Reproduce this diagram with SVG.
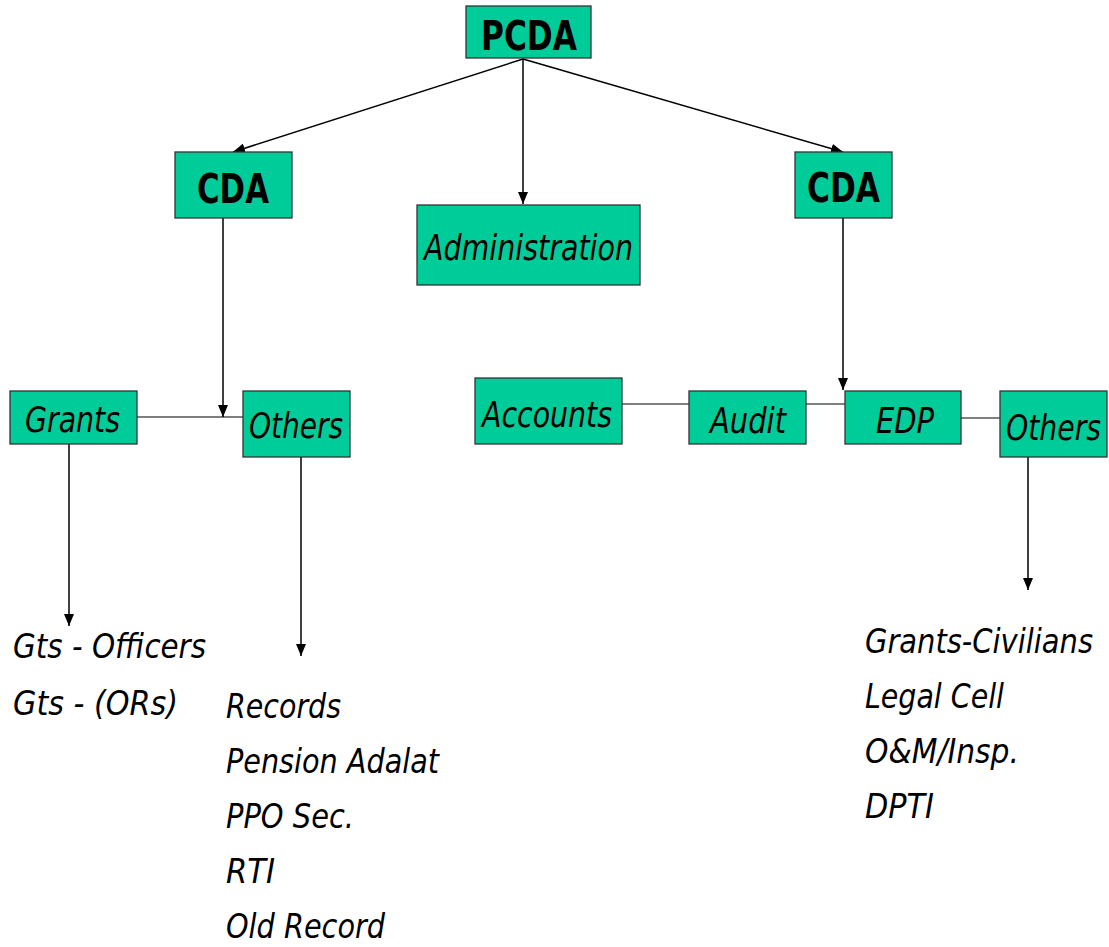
<svg xmlns="http://www.w3.org/2000/svg" width="1109" height="947" viewBox="0 0 1109 947">
<style>
.box{fill:#00CC99;stroke:#333;stroke-width:1.3}
.t{font-family:"DejaVu Sans","Verdana",sans-serif;fill:#000}
.b{font-weight:bold;font-size:41px}
.i{font-style:italic;font-size:36px}
.l{font-style:italic;font-size:34px}
.c{stroke:#000;stroke-width:1.5;fill:none}
.h{stroke:#000;stroke-width:1.2;fill:none}
</style>
<defs>
<marker id="ah" markerWidth="12" markerHeight="10" refX="12" refY="5" orient="auto" markerUnits="userSpaceOnUse">
<path d="M0,0 L12,5 L0,10 Z" fill="#000"/>
</marker>
</defs>
<rect width="1109" height="947" fill="#fff"/>
<g id="connectors">
<line class="c" x1="523" y1="59" x2="523" y2="204" marker-end="url(#ah)"/>
<line class="c" x1="523" y1="59" x2="233" y2="152" marker-end="url(#ah)"/>
<line class="c" x1="523" y1="59" x2="843" y2="152" marker-end="url(#ah)"/>
<line class="c" x1="223" y1="218" x2="223" y2="417" marker-end="url(#ah)"/>
<line class="c" x1="843" y1="218" x2="843" y2="390" marker-end="url(#ah)"/>
<line class="h" x1="137" y1="417" x2="243" y2="417"/>
<line class="h" x1="622" y1="404" x2="689" y2="404"/>
<line class="h" x1="806" y1="404" x2="845" y2="404"/>
<line class="h" x1="961" y1="418" x2="1000" y2="418"/>
<line class="c" x1="69" y1="444" x2="69" y2="626" marker-end="url(#ah)"/>
<line class="c" x1="301" y1="457" x2="301" y2="656" marker-end="url(#ah)"/>
<line class="c" x1="1028" y1="457" x2="1028" y2="590" marker-end="url(#ah)"/>
</g>
<g id="pcda"><rect class="box" x="466" y="6" width="125" height="52"/><text class="t b" x="481" y="50" textLength="96" lengthAdjust="spacingAndGlyphs">PCDA</text></g>
<g id="cda-left"><rect class="box" x="175" y="152" width="117" height="66"/><text class="t b" x="197" y="203" textLength="72" lengthAdjust="spacingAndGlyphs">CDA</text></g>
<g id="cda-right"><rect class="box" x="795" y="152" width="97" height="66"/><text class="t b" x="807" y="202" textLength="73" lengthAdjust="spacingAndGlyphs">CDA</text></g>
<g id="administration"><rect class="box" x="417" y="205" width="223" height="80"/><text class="t i" x="424" y="260" textLength="209" lengthAdjust="spacingAndGlyphs">Administration</text></g>
<g id="grants"><rect class="box" x="10" y="391" width="127" height="53"/><text class="t i" x="25" y="432" textLength="95" lengthAdjust="spacingAndGlyphs">Grants</text></g>
<g id="others-left"><rect class="box" x="243" y="391" width="107" height="66"/><text class="t i" x="249" y="438" textLength="94" lengthAdjust="spacingAndGlyphs">Others</text></g>
<g id="accounts"><rect class="box" x="475" y="378" width="147" height="66"/><text class="t i" x="482" y="427" textLength="130" lengthAdjust="spacingAndGlyphs">Accounts</text></g>
<g id="audit"><rect class="box" x="689" y="391" width="117" height="53"/><text class="t i" x="710" y="433" textLength="76" lengthAdjust="spacingAndGlyphs">Audit</text></g>
<g id="edp"><rect class="box" x="845" y="391" width="116" height="53"/><text class="t i" x="876" y="433" textLength="58" lengthAdjust="spacingAndGlyphs">EDP</text></g>
<g id="others-right"><rect class="box" x="1000" y="391" width="107" height="66"/><text class="t i" x="1006" y="440" textLength="95" lengthAdjust="spacingAndGlyphs">Others</text></g>
<g id="grants-list">
<text class="t l" x="13" y="658" textLength="193" lengthAdjust="spacingAndGlyphs">Gts - Officers</text>
<text class="t l" x="13" y="715" textLength="165" lengthAdjust="spacingAndGlyphs">Gts - (ORs)</text>
</g>
<g id="others-left-list">
<text class="t l" x="226" y="718" textLength="115" lengthAdjust="spacingAndGlyphs">Records</text>
<text class="t l" x="226" y="773" textLength="213" lengthAdjust="spacingAndGlyphs">Pension Adalat</text>
<text class="t l" x="226" y="828" textLength="128" lengthAdjust="spacingAndGlyphs">PPO Sec.</text>
<text class="t l" x="226" y="883" textLength="49" lengthAdjust="spacingAndGlyphs">RTI</text>
<text class="t l" x="226" y="938" textLength="159" lengthAdjust="spacingAndGlyphs">Old Record</text>
</g>
<g id="others-right-list">
<text class="t l" x="865" y="653" textLength="228" lengthAdjust="spacingAndGlyphs">Grants-Civilians</text>
<text class="t l" x="865" y="708" textLength="139" lengthAdjust="spacingAndGlyphs">Legal Cell</text>
<text class="t l" x="865" y="763" textLength="154" lengthAdjust="spacingAndGlyphs">O&amp;M/Insp.</text>
<text class="t l" x="865" y="818" textLength="69" lengthAdjust="spacingAndGlyphs">DPTI</text>
</g>
</svg>
